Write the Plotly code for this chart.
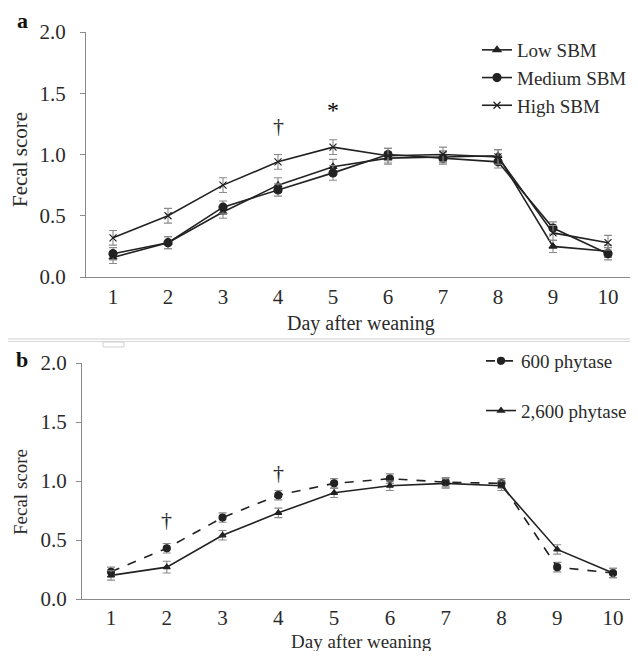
import plotly.graph_objects as go

W, H = 638, 659
OFF = 8  # page body margin
FW, FH = W - 2 * OFF, H - 2 * OFF

days = [1, 2, 3, 4, 5, 6, 7, 8, 9, 10]
day_labels = [str(d) for d in days]

# Panel a
low_sbm = [0.16, 0.28, 0.53, 0.75, 0.90, 0.97, 0.98, 0.99, 0.25, 0.21]
low_sbm_se = [0.05, 0.05, 0.05, 0.06, 0.06, 0.05, 0.05, 0.05, 0.05, 0.05]
med_sbm = [0.19, 0.28, 0.57, 0.71, 0.85, 1.00, 0.97, 0.94, 0.40, 0.19]
med_sbm_se = [0.05, 0.05, 0.05, 0.05, 0.06, 0.05, 0.05, 0.05, 0.05, 0.05]
high_sbm = [0.32, 0.50, 0.75, 0.94, 1.06, 0.99, 1.00, 0.98, 0.36, 0.28]
high_sbm_se = [0.06, 0.06, 0.06, 0.06, 0.06, 0.06, 0.06, 0.06, 0.06, 0.06]

# Panel b
phy600 = [0.23, 0.43, 0.69, 0.88, 0.98, 1.02, 0.99, 0.98, 0.27, 0.22]
phy600_se = [0.04, 0.04, 0.04, 0.04, 0.04, 0.04, 0.04, 0.04, 0.04, 0.04]
phy2600 = [0.20, 0.27, 0.54, 0.73, 0.90, 0.96, 0.98, 0.96, 0.42, 0.22]
phy2600_se = [0.04, 0.05, 0.04, 0.04, 0.04, 0.04, 0.04, 0.04, 0.04, 0.04]

y_ticks = [0.0, 0.5, 1.0, 1.5, 2.0]
y_tick_labels = ["0.0", "0.5", "1.0", "1.5", "2.0"]

FONT = "Liberation Serif, Times New Roman, serif"
TXT = "#2b2b2b"
LINE = "#222222"
AX = "#8a8a8a"
ERR = "#8a8a8a"
FS = 20
LFS = 19
TFS = 21


def px(p):
    return (p - OFF) / FW


def py(p):
    return 1 - (p - OFF) / FH


fig = go.Figure()


def add_series(x, y, se, name, symbol, xa, ya, legend, dash="solid", msize=8):
    fig.add_trace(go.Scatter(
        x=x, y=y, name=name, mode="lines+markers",
        xaxis=xa, yaxis=ya, legend=legend, legendgroup=name,
        line=dict(color=LINE, width=1.6, dash=dash),
        marker=dict(symbol=symbol, size=msize, color=LINE,
                    line=dict(color=LINE, width=1.2)),
        error_y=dict(type="data", array=se, visible=True,
                     color=ERR, thickness=1.1, width=4),
    ))


add_series(days, low_sbm, low_sbm_se, "Low SBM", "triangle-up", "x", "y", "legend", msize=7)
add_series(days, med_sbm, med_sbm_se, "Medium SBM", "circle", "x", "y", "legend", msize=8)
add_series(days, high_sbm, high_sbm_se, "High SBM", "x-thin", "x", "y", "legend", msize=7)

add_series(days, phy600, phy600_se, "600 phytase", "circle", "x2", "y2", "legend2", dash="dash", msize=7)
add_series(days, phy2600, phy2600_se, "2,600 phytase", "triangle-up", "x2", "y2", "legend2", msize=6)

axis_common_x = dict(
    tickmode="array", tickvals=days, ticktext=day_labels,
    showline=True, linecolor=AX, linewidth=1.2, ticks="", showgrid=False,
    zeroline=False, tickfont=dict(family=FONT, size=TFS, color=TXT),
    automargin=False,
)
axis_common_y = dict(
    range=[0, 2], tickmode="array", tickvals=y_ticks, ticktext=y_tick_labels,
    showline=True, linecolor=AX, linewidth=1.2, ticks="outside", ticklen=5,
    tickcolor=AX, showgrid=False, zeroline=False,
    tickfont=dict(family=FONT, size=TFS, color=TXT), automargin=False,
)

fig.update_layout(
    width=FW, height=FH,
    margin=dict(l=0, r=0, t=0, b=0, autoexpand=False),
    paper_bgcolor="white", plot_bgcolor="white",
    font=dict(family=FONT, size=FS, color=TXT),
    xaxis=dict(domain=[px(86), px(630)], range=[0.509, 10.4], anchor="y",
               ticklabelstandoff=1, **axis_common_x),
    yaxis=dict(domain=[py(277), py(32)], anchor="x", ticklabelstandoff=10, **axis_common_y),
    xaxis2=dict(domain=[px(82), px(630)], range=[0.48, 10.305], anchor="y2",
                ticklabelstandoff=0, **axis_common_x),
    yaxis2=dict(domain=[py(599), py(363)], anchor="x2", ticklabelstandoff=5, **axis_common_y),
    legend=dict(x=px(477), y=py(31), xanchor="left", yanchor="top",
                bgcolor="rgba(0,0,0,0)", font=dict(family=FONT, size=LFS, color=TXT),
                itemwidth=30, tracegroupgap=0),
    legend2=dict(x=px(481), y=py(342), xanchor="left", yanchor="top",
                 bgcolor="rgba(0,0,0,0)", font=dict(family=FONT, size=LFS, color=TXT),
                 itemwidth=30, tracegroupgap=22),
    showlegend=True,
)


def pann(text, x, y, size, angle=0, color=TXT):
    return dict(text=text, x=px(x), y=py(y), xref="paper", yref="paper",
                xanchor="center", yanchor="middle", showarrow=False,
                textangle=angle, font=dict(size=size, family=FONT, color=color))


annotations = [
    pann("<b>a</b>", 22, 20, 22, color="#111"),
    pann("<b>b</b>", 22, 359, 22, color="#111"),
    pann("Fecal score", 20, 160, 21, angle=-90),
    pann("Fecal score", 20, 492, 19, angle=-90),
    pann("Day after weaning", 361, 323, FS),
    pann("Day after weaning", 361, 641, 19),
    dict(text="†", x=4, y=1.24, xref="x", yref="y", showarrow=False,
         xanchor="center", yanchor="middle", font=dict(size=22, family=FONT, color=TXT)),
    dict(text="*", x=5, y=1.36, xref="x", yref="y", showarrow=False,
         xanchor="center", yanchor="middle", font=dict(size=24, family=FONT, color="#000000")),
    dict(text="†", x=2, y=0.67, xref="x2", yref="y2", showarrow=False,
         xanchor="center", yanchor="middle", font=dict(size=22, family=FONT, color=TXT)),
    dict(text="†", x=4, y=1.07, xref="x2", yref="y2", showarrow=False,
         xanchor="center", yanchor="middle", font=dict(size=22, family=FONT, color=TXT)),
]
fig.update_layout(annotations=annotations)

shapes = [
    dict(type="line", xref="paper", yref="paper", x0=0, x1=1, y0=py(339), y1=py(339),
         line=dict(color="#cfcfcf", width=1)),
    dict(type="line", xref="paper", yref="paper", x0=0, x1=1, y0=py(341.5), y1=py(341.5),
         line=dict(color="#d8d8d8", width=1)),
    dict(type="rect", xref="paper", yref="paper", x0=px(103), x1=px(124), y0=py(347), y1=py(342),
         line=dict(color="#d0d0d0", width=1), fillcolor="white"),
]
fig.update_layout(shapes=shapes)

fig.write_html("out.html")
